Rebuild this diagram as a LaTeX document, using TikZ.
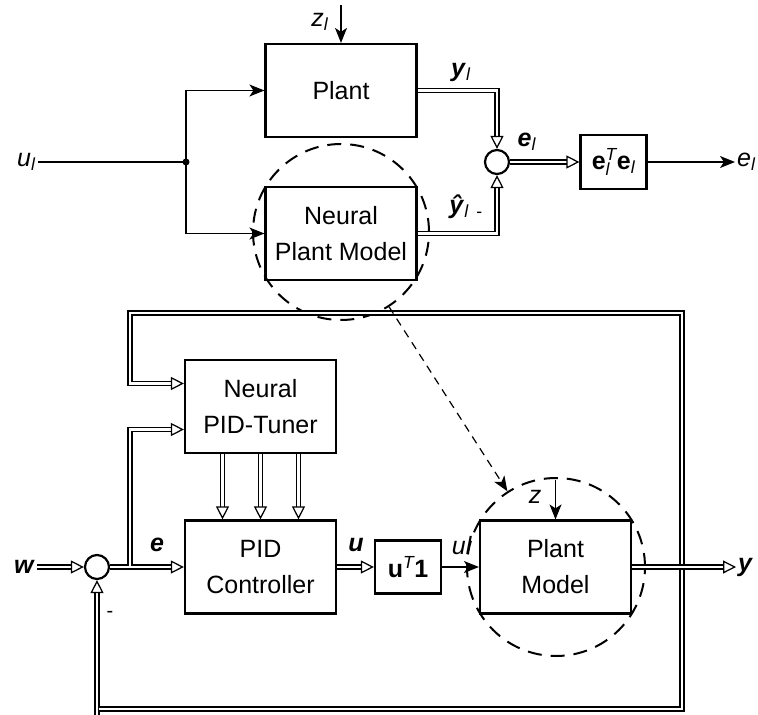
\documentclass[tikz,border=0pt]{standalone}
\usepackage{fontspec}
\setmainfont{Liberation Sans}
\usetikzlibrary{arrows.meta,calc}

\newcommand{\bfit}[1]{\textbf{\textit{#1}}}
\newcommand{\lsub}[1]{\textsubscript{\textit{#1}}}

\begin{document}
\begin{tikzpicture}[x=1pt,y=-1pt,
  font=\fontsize{25}{36}\selectfont,
  blk/.style={draw,line width=2.2pt,minimum width=151pt,minimum height=93pt,align=center,inner sep=0pt},
  smallblk/.style={draw,line width=2.2pt,minimum width=66pt,minimum height=54pt,inner sep=0pt},
  sumpt/.style={draw,circle,line width=2.2pt,minimum size=24pt,inner sep=0pt},
  ring/.style={draw,circle,line width=2pt,dash pattern=on 14pt off 9pt,minimum size=#1,inner sep=0pt},
  sig/.style={line width=1.5pt,-{Stealth[length=15pt,width=12pt,inset=4pt]}},
  dbl/.style={line width=1.25pt,double,double distance=2.8pt},
  dtip/.style={-{Triangle[open,length=13pt,width=13pt,line width=1.25pt]}},
  lbl/.style={inner sep=2pt}]
  \useasboundingbox (0,0) rectangle (758,715);
  % identification loop
  \node[blk] (plant) at (341,90.5) {Plant};
  \node[blk] (npm) at (341,233.5) {Neural\\Plant Model};
  \node[ring=176pt] (r1) at (341,232) {};
  \node[sumpt] (s1) at (497,162) {};
  \node[smallblk] (ee) at (613.5,162) {$\mathbf{e}_{\mathit{l}}^{\mathit{T}}\mathbf{e}_{\mathit{l}}$};
  \node[lbl,anchor=east] (ul) at (38,162) {\textit{u}\lsub{l}};
  \node[lbl,anchor=west] (el) at (735,162) {\textit{e}\lsub{l}};
  \node[lbl] (zll) at (320,22) {\textit{z}\lsub{l}};
  \coordinate (br) at (186,162);
  \coordinate (zl) at (341,5);
  \draw[line width=1.5pt] (ul) -- (br);
  \fill (br) circle (3.5);
  \draw[sig] (br) |- (plant);
  \draw[sig] (br) |- (npm);
  \draw[sig] (zl) -- (plant);
  \draw[dbl,dtip] (plant.east) -| (s1.north);
  \draw[dbl,dtip] (npm.east) -| (s1.south);
  \draw[dbl,dtip] (s1) -- (ee);
  \draw[sig] (ee) -- (el);
  \node[lbl] (yl) at (461,72) {\bfit{y}\lsub{l}};
  \node[lbl] (yhl) at (466,207) {\bfit{ŷ}\textsubscript{\textit{l}\, -}};
  \node[lbl] (ell) at (527,142) {\bfit{e}\lsub{l}};
  % control loop
  \node[blk] (tuner) at (260.5,406.5) {Neural\\PID-Tuner};
  \node[blk] (pid) at (260.5,567) {PID\\Controller};
  \node[smallblk,minimum height=53pt] (ut) at (408,567) {$\mathbf{u}^{\mathit{T}}\mathbf{1}$};
  \node[blk] (pm) at (555.5,567) {Plant\\Model};
  \node[ring=178pt] (r2) at (556,567) {};
  \node[sumpt] (s2) at (97,567) {};
  \node[lbl,anchor=east] (w) at (37,567) {\bfit{w}};
  \node[lbl,anchor=west] (y) at (736,567) {\bfit{y}};
  \coordinate (eb) at (130,565.6);
  \coordinate (fbtl) at (130,313);
  \coordinate (fbr) at (682,709);
  \coordinate (fbl) at (98.6,709);
  \coordinate (fbin) at (97,715);
  \coordinate (z) at (555.5,480);
  \draw[dbl,dtip] (w) -- (s2);
  \draw[dbl,dtip] (s2) -- (pid);
  \draw[dbl,dtip] (eb) |- ([yshift=-23pt]tuner.west);
  \draw[dbl,dtip] (fbin) -- (s2.south);
  \draw[dbl,dtip] (fbl) -- (fbr) |- (fbtl) |- ([yshift=23pt]tuner.west);
  \foreach \dx in {-38,0,38}
    \draw[dbl,dtip] ([xshift=\dx pt]tuner.south) -- ([xshift=\dx pt]pid.north);
  \draw[dbl,dtip] (pid) -- (ut);
  \draw[sig] (ut) -- (pm);
  \draw[sig] (z) -- (pm);
  \draw[dbl,dtip] (pm) -- (y);
  \draw[line width=1.2pt,dash pattern=on 8pt off 6pt,-{Stealth[length=15pt,width=12pt,inset=4pt]}] (r1) -- (r2);
  \node[lbl] (el2) at (157,545) {\bfit{e}};
  \node[lbl] (ul2) at (356,545) {\bfit{u}};
  \node[lbl] (ul3) at (462,546) {\textit{ul}};
  \node[lbl] (zlb) at (535,497) {\textit{z}};
  \node[lbl,font=\fontsize{20}{20}\selectfont] (minus) at (110,614) {-};
\end{tikzpicture}
\end{document}
